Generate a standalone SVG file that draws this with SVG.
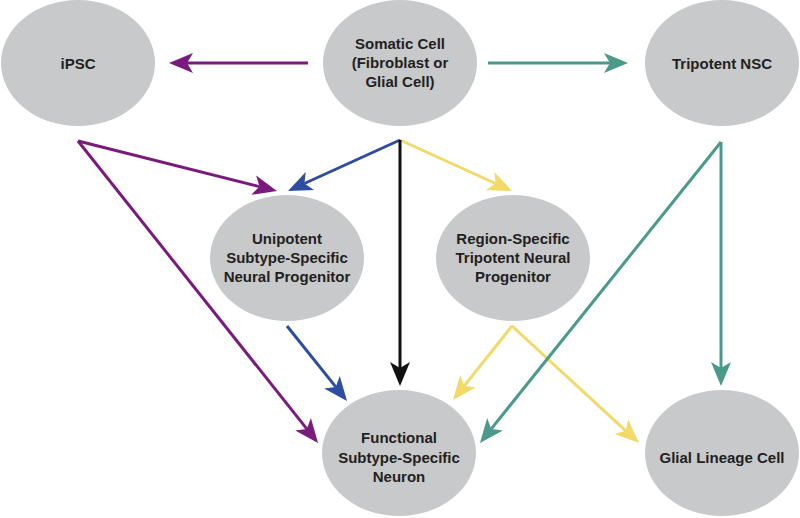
<svg xmlns="http://www.w3.org/2000/svg" width="800" height="518" viewBox="0 0 800 518">
<style>
.node ellipse{fill:#c8c9cb;}
.node text{font-family:"Liberation Sans",Arial,sans-serif;font-weight:bold;font-size:15px;fill:#231f20;text-anchor:middle;}
.c line{stroke-width:3;fill:none;}
.p{stroke:#7a1a7d;} .t{stroke:#4a9a8b;} .b{stroke:#2d4da0;} .y{stroke:#f2d968;} .k{stroke:#111111;}
</style>
<defs>
<marker id="mp" markerUnits="userSpaceOnUse" viewBox="-7 -11 26 22" markerWidth="26" markerHeight="22" refX="0" refY="0" orient="auto"><path d="M18,0 L-6,-10 L0,0 L-6,10 Z" fill="#7a1a7d"/></marker>
<marker id="mt" markerUnits="userSpaceOnUse" viewBox="-7 -11 26 22" markerWidth="26" markerHeight="22" refX="0" refY="0" orient="auto"><path d="M18,0 L-6,-10 L0,0 L-6,10 Z" fill="#4a9a8b"/></marker>
<marker id="mb" markerUnits="userSpaceOnUse" viewBox="-7 -11 26 22" markerWidth="26" markerHeight="22" refX="0" refY="0" orient="auto"><path d="M18,0 L-6,-10 L0,0 L-6,10 Z" fill="#2d4da0"/></marker>
<marker id="my" markerUnits="userSpaceOnUse" viewBox="-7 -11 26 22" markerWidth="26" markerHeight="22" refX="0" refY="0" orient="auto"><path d="M18,0 L-6,-10 L0,0 L-6,10 Z" fill="#f2d968"/></marker>
<marker id="mk" markerUnits="userSpaceOnUse" viewBox="-7 -11 26 22" markerWidth="26" markerHeight="22" refX="0" refY="0" orient="auto"><path d="M18,0 L-6,-10 L0,0 L-6,10 Z" fill="#111111"/></marker>
</defs>
<rect width="800" height="518" fill="#ffffff"/>
<g id="ipsc" class="node"><ellipse cx="78" cy="63" rx="77" ry="63"/><text x="78" y="68.5">iPSC</text></g>
<g id="somatic" class="node"><ellipse cx="400" cy="63" rx="77" ry="63"/><text x="400" y="48.5">Somatic Cell</text><text x="400" y="67.5">(Fibroblast or</text><text x="400" y="87">Glial Cell)</text></g>
<g id="nsc" class="node"><ellipse cx="722" cy="63" rx="77" ry="63"/><text x="722" y="68.5">Tripotent NSC</text></g>
<g id="unipotent" class="node"><ellipse cx="287" cy="258" rx="77" ry="63"/><text x="287" y="243.5">Unipotent</text><text x="287" y="262.5">Subtype-Specific</text><text x="287" y="281.5">Neural Progenitor</text></g>
<g id="region" class="node"><ellipse cx="513" cy="258" rx="77" ry="63"/><text x="513" y="243.5">Region-Specific</text><text x="513" y="262.5">Tripotent Neural</text><text x="513" y="281.5">Progenitor</text></g>
<g id="functional" class="node"><ellipse cx="399" cy="453" rx="77" ry="63"/><text x="399" y="443">Functional</text><text x="399" y="462.5">Subtype-Specific</text><text x="399" y="481.5">Neuron</text></g>
<g id="glial" class="node"><ellipse cx="722" cy="453" rx="77" ry="63"/><text x="722" y="463">Glial Lineage Cell</text></g>
<g id="connectors" class="c">
<line class="p" x1="308" y1="63" x2="187" y2="63" marker-end="url(#mp)"/>
<line class="t" x1="488" y1="63" x2="610" y2="63" marker-end="url(#mt)"/>
<line class="p" x1="78" y1="141" x2="259.5" y2="186.6" marker-end="url(#mp)"/>
<line class="p" x1="78" y1="141" x2="306.8" y2="428.9" marker-end="url(#mp)"/>
<line class="b" x1="400" y1="140" x2="304.4" y2="183.5" marker-end="url(#mb)"/>
<line class="y" x1="400" y1="140" x2="495.6" y2="183.5" marker-end="url(#my)"/>
<line class="k" x1="400" y1="140" x2="400" y2="368" marker-end="url(#mk)"/>
<line class="b" x1="287" y1="326" x2="335.75" y2="386.9" marker-end="url(#mb)"/>
<line class="y" x1="512" y1="326" x2="464.2" y2="385.9" marker-end="url(#my)"/>
<line class="y" x1="512" y1="326" x2="625.8" y2="430.8" marker-end="url(#my)"/>
<line class="t" x1="721" y1="142" x2="491.25" y2="428.9" marker-end="url(#mt)"/>
<line class="t" x1="721" y1="142" x2="721" y2="368" marker-end="url(#mt)"/>
</g>
</svg>
